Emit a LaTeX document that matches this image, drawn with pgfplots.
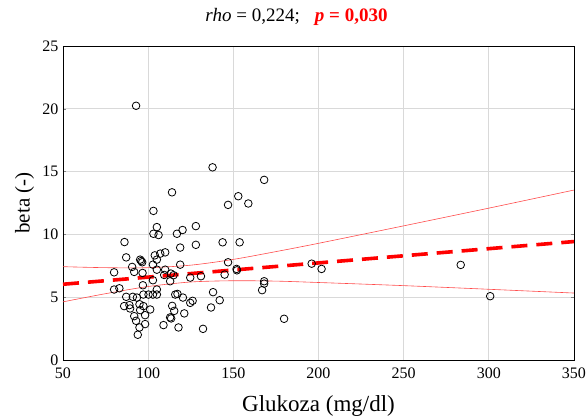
\documentclass[border=0pt]{standalone}
\usepackage{pgfplots}
\pgfplotsset{compat=1.18}
\usepackage{fontspec}
\setmainfont{Liberation Serif}
\begin{document}
\begin{tikzpicture}
\begin{axis}[
  name=ax,
  at={(0,0)}, anchor=south west,
  scale only axis,
  width=511pt, height=314pt,
  xmin=50, xmax=350, ymin=0, ymax=25,
  xtick={50,100,...,350}, ytick={0,5,...,25},
  tick align=inside, major tick length=3pt,
  xtick style={draw=none},
  ytick pos=both,
  grid=major,
  major grid style={draw=black!15, line width=0.8pt},
  axis line style={line width=0.9pt},
  /pgf/number format/assume math mode=true,
  tick label style={font=\fontsize{16}{18}\selectfont},
  xticklabel style={yshift=-4pt},
  yticklabel style={xshift=-1pt},
  xlabel={Glukoza (mg/dl)},
  ylabel={beta (-)},
  xlabel style={font=\fontsize{23}{26}\selectfont, at={(axis description cs:0.5,-0.145)}, anchor=center},
  ylabel style={font=\fontsize{21}{24}\selectfont, at={(axis description cs:-0.075,0.5)}, anchor=center},
  title={\textit{rho} = 0,224;\hspace{0.8em}\textcolor{red}{\bfseries\textit{p} = 0,030}},
  title style={font=\fontsize{19}{22}\selectfont, at={(axis description cs:0.457,1.058)}, anchor=base},
  clip=true,
]
\addplot[only marks, mark=o, mark size=3.8pt, mark options={line width=0.8pt, black}] coordinates {
(92.9,20.24) (137.8,15.34) (168.1,14.34) (114.0,13.35) (152.9,13.04) (146.9,12.35) (158.8,12.46)
(103.1,11.87) (105.1,10.58) (103.1,10.05) (106.1,9.95) (116.9,10.05) (120.2,10.35) (128.0,10.66)
(86.1,9.39) (118.8,8.95) (128.0,9.17) (143.7,9.37) (153.7,9.37) (87.1,8.17) (95.3,7.99) (95.9,7.88)
(96.5,7.78) (103.9,8.33) (107.1,8.47) (110.0,8.57) (105.1,7.99) (102.8,7.59) (90.6,7.41) (91.8,7.01)
(80.0,6.98) (96.7,6.93) (105.1,7.19) (110.0,7.19) (109.4,6.77) (113.3,6.88) (118.8,7.59) (114.9,6.75)
(124.7,6.56) (131.0,6.67) (146.9,7.78) (151.9,7.25) (152.1,7.14) (196.0,7.67) (201.8,7.25) (144.9,6.80)
(112.9,6.27) (102.8,6.35) (96.9,5.95) (80.0,5.61) (83.1,5.71) (97.2,5.21) (100.2,5.21) (102.8,5.21)
(105.1,5.61) (105.1,5.21) (115.9,5.21) (117.2,5.26) (120.4,4.97) (124.7,4.55) (126.1,4.71) (138.1,5.40)
(136.9,4.18) (142.0,4.76) (87.1,5.03) (91.0,5.03) (93.4,4.97) (85.9,4.29) (89.0,4.37) (89.4,4.10)
(94.9,4.44) (97.2,4.29) (101.2,4.02) (91.8,3.49) (95.3,3.97) (98.2,3.57) (92.9,3.12) (98.2,2.86)
(94.9,2.59) (93.9,2.01) (114.1,4.31) (115.3,3.91) (112.9,3.39) (113.5,3.31) (121.2,3.71) (109.0,2.78)
(117.8,2.59) (132.2,2.48) (168.1,6.27) (168.1,6.08) (166.9,5.56) (179.8,3.28) (283.5,7.57) (300.8,5.08)
};
\addplot[red!70, line width=0.6pt, smooth] coordinates {
(50,7.43) (75,7.35) (100,7.35) (125,7.55) (150,8.01) (175,8.63) (200,9.29) (250,10.68) (300,12.09) (350,13.53)
};
\addplot[red!70, line width=0.6pt, smooth] coordinates {
(50,4.63) (75,5.28) (100,5.85) (125,6.21) (150,6.31) (175,6.28) (200,6.17) (250,5.92) (300,5.63) (350,5.33)
};
\addplot[red, line width=3.6pt, dash pattern=on 16pt off 9pt] coordinates {(50,6.03) (350,9.43)};
\end{axis}
\pgfresetboundingbox
\path[use as bounding box] (-63pt,-59pt) rectangle (524pt,360pt);
\end{tikzpicture}
\end{document}
